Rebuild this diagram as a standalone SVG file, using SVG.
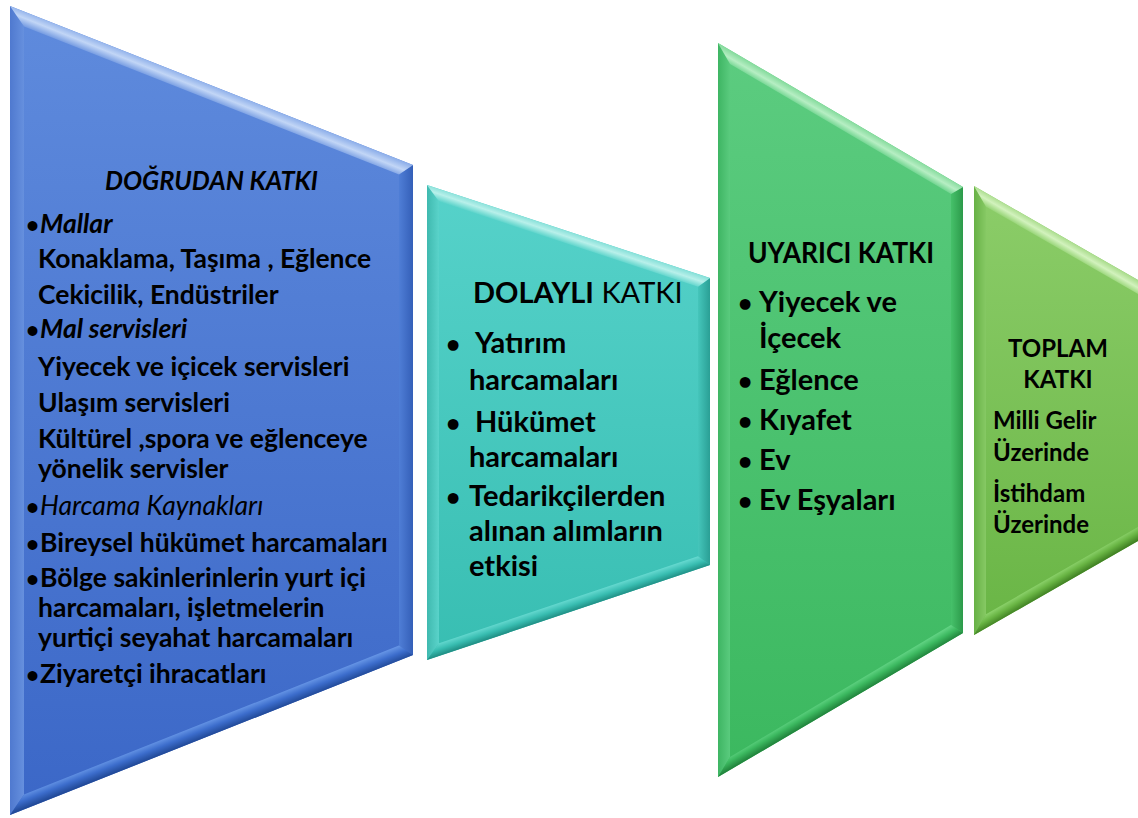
<svg xmlns="http://www.w3.org/2000/svg" width="1138" height="818" viewBox="0 0 1138 818">
<style>
text{font-family:Lato,"Liberation Sans",sans-serif;font-weight:700;fill:#000;}
.b{font-size:26.5px;}
.i{font-style:italic;}
.n{font-weight:400;}
.t{font-size:29px;}
.g{font-size:29px;}
.s{font-size:24px;}
.u{font-size:85%;}
</style>
<defs>
<linearGradient id="blueBase" x1="0" y1="0" x2="0" y2="1"><stop offset="0" stop-color="#5f8bdd"/><stop offset="1" stop-color="#3b67c7"/></linearGradient>
<linearGradient id="blueTop" gradientUnits="userSpaceOnUse" x1="211" y1="85" x2="205" y2="100"><stop offset="0" stop-color="#8fb0ea"/><stop offset="0.45" stop-color="#c2d6f6"/><stop offset="1" stop-color="#6a93df"/></linearGradient>
<linearGradient id="blueBot" gradientUnits="userSpaceOnUse" x1="211" y1="735" x2="205.5" y2="721"><stop offset="0" stop-color="#224a98"/><stop offset="0.5" stop-color="#3c6dcc"/><stop offset="1" stop-color="#6a99e8"/></linearGradient>
<linearGradient id="blueL" gradientUnits="userSpaceOnUse" x1="10" y1="0" x2="24" y2="0"><stop offset="0" stop-color="#4f79cf"/><stop offset="1" stop-color="#6690de"/></linearGradient>
<linearGradient id="blueR" gradientUnits="userSpaceOnUse" x1="413" y1="0" x2="399" y2="0"><stop offset="0" stop-color="#345fb8"/><stop offset="1" stop-color="#4f7ed6"/></linearGradient>

<linearGradient id="tealBase" x1="0" y1="0" x2="0" y2="1"><stop offset="0" stop-color="#56d2ca"/><stop offset="1" stop-color="#38beb2"/></linearGradient>
<linearGradient id="tealTop" gradientUnits="userSpaceOnUse" x1="568" y1="231" x2="564" y2="243"><stop offset="0" stop-color="#86e0d9"/><stop offset="0.45" stop-color="#b8f0ea"/><stop offset="1" stop-color="#5ad3ca"/></linearGradient>
<linearGradient id="tealBot" gradientUnits="userSpaceOnUse" x1="568" y1="613" x2="564" y2="601"><stop offset="0" stop-color="#1f8c82"/><stop offset="0.5" stop-color="#38bdb1"/><stop offset="1" stop-color="#66d9d0"/></linearGradient>
<linearGradient id="tealL" gradientUnits="userSpaceOnUse" x1="427" y1="0" x2="439" y2="0"><stop offset="0" stop-color="#3fb9af"/><stop offset="1" stop-color="#5ad3ca"/></linearGradient>
<linearGradient id="tealR" gradientUnits="userSpaceOnUse" x1="710" y1="0" x2="698" y2="0"><stop offset="0" stop-color="#2a9f95"/><stop offset="1" stop-color="#45c6bb"/></linearGradient>

<linearGradient id="grnBase" x1="0" y1="0" x2="0" y2="1"><stop offset="0" stop-color="#5ccc80"/><stop offset="1" stop-color="#3bb85f"/></linearGradient>
<linearGradient id="grnTop" gradientUnits="userSpaceOnUse" x1="840" y1="115" x2="833" y2="127"><stop offset="0" stop-color="#88dc9f"/><stop offset="0.45" stop-color="#b6eec3"/><stop offset="1" stop-color="#5fce83"/></linearGradient>
<linearGradient id="grnBot" gradientUnits="userSpaceOnUse" x1="840" y1="705" x2="833" y2="693"><stop offset="0" stop-color="#22853d"/><stop offset="0.5" stop-color="#3cb960"/><stop offset="1" stop-color="#68d88a"/></linearGradient>
<linearGradient id="grnL" gradientUnits="userSpaceOnUse" x1="718" y1="0" x2="730" y2="0"><stop offset="0" stop-color="#3eb563"/><stop offset="1" stop-color="#5acb7e"/></linearGradient>
<linearGradient id="grnR" gradientUnits="userSpaceOnUse" x1="963" y1="0" x2="951" y2="0"><stop offset="0" stop-color="#2c9a4a"/><stop offset="1" stop-color="#46c16a"/></linearGradient>

<linearGradient id="lgBase" x1="0" y1="0" x2="0" y2="1"><stop offset="0" stop-color="#8ccd69"/><stop offset="1" stop-color="#69b545"/></linearGradient>
<linearGradient id="lgTop" gradientUnits="userSpaceOnUse" x1="1060" y1="235" x2="1053" y2="247"><stop offset="0" stop-color="#a9dc8c"/><stop offset="0.45" stop-color="#d2f2bd"/><stop offset="1" stop-color="#8ccf6a"/></linearGradient>
<linearGradient id="lgBot" gradientUnits="userSpaceOnUse" x1="1060" y1="586" x2="1053" y2="574"><stop offset="0" stop-color="#3f7f22"/><stop offset="0.5" stop-color="#68b443"/><stop offset="1" stop-color="#92d772"/></linearGradient>
<linearGradient id="lgL" gradientUnits="userSpaceOnUse" x1="974" y1="0" x2="986" y2="0"><stop offset="0" stop-color="#68b146"/><stop offset="1" stop-color="#86c964"/></linearGradient>
</defs>

<g id="node-dogrudan">
<polygon points="10,6 413,165 413,655 10,815" fill="url(#blueBase)"/>
<polygon points="10,6 24,26.5 24,794.4 10,815" fill="url(#blueL)"/>
<polygon points="413,165 413,655 399,645.6 399,174.5" fill="url(#blueR)"/>
<polygon points="10,6 413,165 399,174.5 24,26.5" fill="url(#blueTop)"/>
<polygon points="10,815 413,655 399,645.6 24,794.4" fill="url(#blueBot)"/>
<text class="b i" x="105" y="190" textLength="213" lengthAdjust="spacingAndGlyphs">DOĞRUDAN KATKI</text>
<text class="b" x="26" y="233"><tspan class="u">•</tspan><tspan x="40" class="i">Mallar</tspan></text>
<text class="b" x="38" y="268">Konaklama, Taşıma , Eğlence</text>
<text class="b" x="38" y="304">Cekicilik, Endüstriler</text>
<text class="b" x="26" y="338"><tspan class="u">•</tspan><tspan x="40" class="i">Mal servisleri</tspan></text>
<text class="b" x="38" y="376">Yiyecek ve içicek servisleri</text>
<text class="b" x="38" y="412">Ulaşım servisleri</text>
<text class="b" x="38" y="448">Kültürel ,spora ve eğlenceye</text>
<text class="b" x="38" y="478">yönelik servisler</text>
<text class="b" x="26" y="515"><tspan class="u">•</tspan><tspan x="40" class="i n">Harcama Kaynakları</tspan></text>
<text class="b" x="26" y="552"><tspan class="u">•</tspan><tspan x="40">Bireysel hükümet harcamaları</tspan></text>
<text class="b" x="26" y="587"><tspan class="u">•</tspan><tspan x="40">Bölge sakinlerinlerin yurt içi</tspan></text>
<text class="b" x="38" y="617">harcamaları, işletmelerin</text>
<text class="b" x="38" y="647">yurtiçi seyahat harcamaları</text>
<text class="b" x="26" y="683"><tspan class="u">•</tspan><tspan x="40">Ziyaretçi ihracatları</tspan></text>
</g>

<g id="node-dolayli">
<polygon points="427,185 710,278 710,565 427,660" fill="url(#tealBase)"/>
<polygon points="427,185 439,201.5 439,643.3 427,660" fill="url(#tealL)"/>
<polygon points="710,278 710,565 698,556.3 698,286.7" fill="url(#tealR)"/>
<polygon points="427,185 710,278 698,286.7 439,201.5" fill="url(#tealTop)"/>
<polygon points="427,660 710,565 698,556.3 439,643.3" fill="url(#tealBot)"/>
<text class="t" x="473" y="303">DOLAYLI<tspan class="n"> KATKI</tspan></text>
<text class="t" x="446" y="353"><tspan class="u">•</tspan><tspan x="475">Yatırım</tspan></text>
<text class="t" x="469" y="390">harcamaları</text>
<text class="t" x="446" y="432"><tspan class="u">•</tspan><tspan x="475">Hükümet</tspan></text>
<text class="t" x="469" y="467">harcamaları</text>
<text class="t" x="446" y="506"><tspan class="u">•</tspan><tspan x="469">Tedarikçilerden</tspan></text>
<text class="t" x="469" y="541">alınan alımların</text>
<text class="t" x="469" y="576">etkisi</text>
</g>

<g id="node-uyarici">
<polygon points="718,43 963,187 963,633 718,777" fill="url(#grnBase)"/>
<polygon points="718,43 730,64 730,757 718,777" fill="url(#grnL)"/>
<polygon points="963,187 963,633 951,625 951,194" fill="url(#grnR)"/>
<polygon points="718,43 963,187 951,194 730,64" fill="url(#grnTop)"/>
<polygon points="718,777 963,633 951,625 730,757" fill="url(#grnBot)"/>
<text class="g" x="748" y="263" textLength="186" lengthAdjust="spacingAndGlyphs">UYARICI KATKI</text>
<text class="g" x="738" y="312"><tspan class="u">•</tspan><tspan x="759">Yiyecek ve</tspan></text>
<text class="g" x="759" y="348">İçecek</text>
<text class="g" x="738" y="390"><tspan class="u">•</tspan><tspan x="759">Eğlence</tspan></text>
<text class="g" x="738" y="430"><tspan class="u">•</tspan><tspan x="759">Kıyafet</tspan></text>
<text class="g" x="738" y="470"><tspan class="u">•</tspan><tspan x="759">Ev</tspan></text>
<text class="g" x="738" y="510"><tspan class="u">•</tspan><tspan x="759">Ev Eşyaları</tspan></text>
</g>

<g id="node-toplam">
<polygon points="974,186 1150,287 1150,534 974,635" fill="url(#lgBase)"/>
<polygon points="974,186 986,206.7 986,614.3 974,635" fill="url(#lgL)"/>
<polygon points="974,186 1150,287 1150,300.8 986,206.7" fill="url(#lgTop)"/>
<polygon points="974,635 1150,534 1150,520.2 986,614.3" fill="url(#lgBot)"/>
<text class="s" x="1058" y="357" text-anchor="middle">TOPLAM</text>
<text class="s" x="1058" y="388" text-anchor="middle">KATKI</text>
<text class="s" x="993" y="429">Milli Gelir</text>
<text class="s" x="993" y="461">Üzerinde</text>
<text class="s" x="993" y="502">İstihdam</text>
<text class="s" x="993" y="533">Üzerinde</text>
</g>

<g id="connectors"></g>
</svg>
